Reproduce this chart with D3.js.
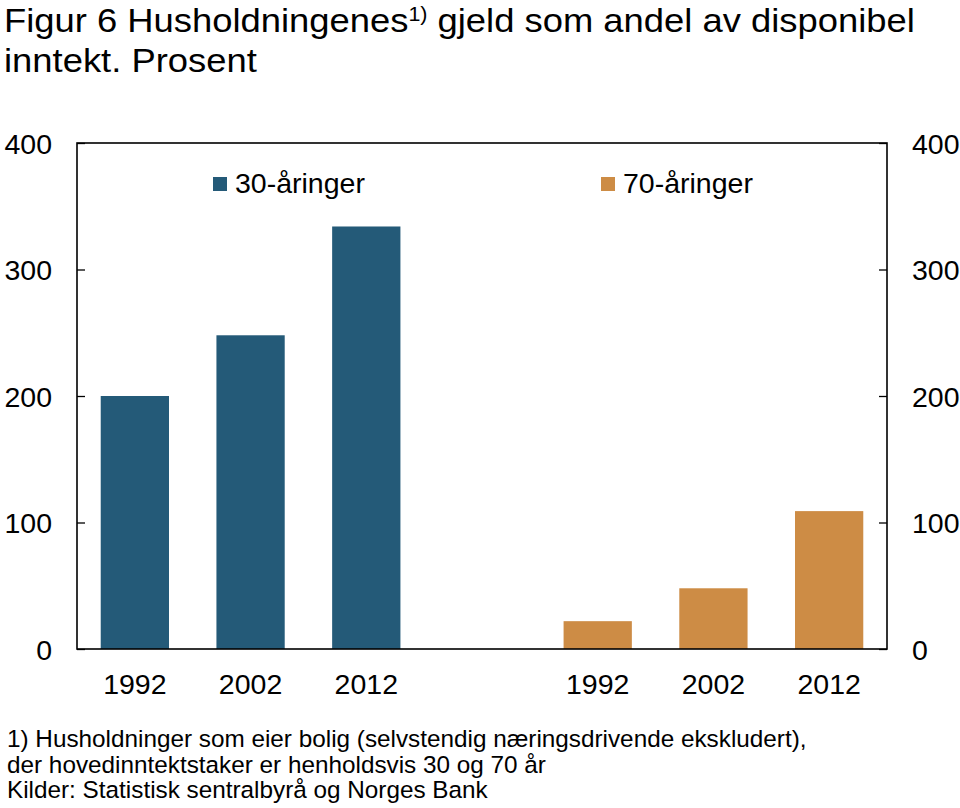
<!DOCTYPE html>
<html>
<head>
<meta charset="utf-8">
<script src="https://cdn.jsdelivr.net/npm/d3@7"></script>
<style>
  body { margin: 0; background: #fff; }
  text { font-family: "Liberation Sans", Arial, sans-serif; fill: #000; }
</style>
</head>
<body>
<div id="chart"></div>
<script>
// data
var slots = ["a1992", "a2002", "a2012", "gap", "b1992", "b2002", "b2012"];
var slotLabels = ["1992", "2002", "2012", "", "1992", "2002", "2012"];
var young = [200, 248, 334];        // 30-åringer
var old = [22, 48, 109];            // 70-åringer
var yTicks = [0, 100, 200, 300, 400];
var seriesNames = ["30-åringer", "70-åringer"];
var colors = ["#245a78", "#cd8c45"];
var footnotes = [
  "1) Husholdninger som eier bolig (selvstendig næringsdrivende ekskludert),",
  "der hovedinntektstaker er henholdsvis 30 og 70 år",
  "Kilder: Statistisk sentralbyrå og Norges Bank"
];

var width = 960, height = 808;
var margin = {top: 143, right: 73, bottom: 159, left: 77};
var w = width - margin.left - margin.right,
    h = height - margin.top - margin.bottom;

var svg = d3.select("#chart").append("svg")
    .attr("width", width)
    .attr("height", height);

// title, condensed like the original
var title = svg.append("g");
var t1 = title.append("text").attr("x", 0).attr("y", 32).style("font-size", "34px");
t1.append("tspan").text("Figur 6 Husholdningenes");
t1.append("tspan").attr("dy", -11).style("font-size", "20px").text("1)");
t1.append("tspan").attr("dy", 11).text(" gjeld som andel av disponibel");
title.append("text").attr("x", 0).attr("y", 72).style("font-size", "34px").text("inntekt. Prosent");
var bw = t1.node().getComputedTextLength();
title.attr("transform", "translate(4,0) scale(" + (911 / bw) + ",1)");

var g = svg.append("g").attr("transform", "translate(" + margin.left + "," + margin.top + ")");

var x = d3.scaleBand().domain(slots).range([0, w]).paddingInner(0.41).paddingOuter(0.205);
var y = d3.scaleLinear().domain([0, 400]).range([h, 0]);

var bars = [];
young.forEach(function(v, i) { bars.push({slot: slots[i], value: v, s: 0}); });
old.forEach(function(v, i) { bars.push({slot: slots[i + 4], value: v, s: 1}); });

g.selectAll("rect.bar")
  .data(bars)
  .enter().append("rect")
    .attr("class", "bar")
    .attr("x", function(d) { return x(d.slot); })
    .attr("width", x.bandwidth())
    .attr("y", function(d) { return y(d.value); })
    .attr("height", function(d) { return h - y(d.value); })
    .attr("fill", function(d) { return colors[d.s]; });

// axes
var left = g.append("g")
    .call(d3.axisLeft(y).tickValues(yTicks).tickSize(-8).tickPadding(25));
var right = g.append("g")
    .attr("transform", "translate(" + w + ",0)")
    .call(d3.axisRight(y).tickValues(yTicks).tickSize(-8).tickPadding(25));
[left, right].forEach(function(a) {
  a.select(".domain").remove();
  a.selectAll("text").style("font-size", "28.5px").attr("font-family", null).attr("dy", "0.36em");
  a.selectAll("line").attr("stroke", "#000").attr("stroke-width", 1.3);
});

g.append("rect")
  .attr("width", w).attr("height", h)
  .attr("fill", "none").attr("stroke", "#000").attr("stroke-width", 1.6);

g.append("g").selectAll("text")
  .data(slots.filter(function(s, i) { return slotLabels[i] !== ""; }))
  .enter().append("text")
    .attr("x", function(d) { return x(d) + x.bandwidth() / 2; })
    .attr("y", h + 45)
    .attr("text-anchor", "middle")
    .style("font-size", "28.5px")
    .text(function(d) { return slotLabels[slots.indexOf(d)]; });

// legend
var legX = [136, 524];
var leg = g.selectAll("g.leg")
  .data(seriesNames)
  .enter().append("g")
    .attr("class", "leg")
    .attr("transform", function(d, i) { return "translate(" + legX[i] + ",34)"; });
leg.append("rect").attr("width", 14).attr("height", 14).attr("fill", function(d, i) { return colors[i]; });
leg.append("text").attr("x", 22).attr("y", 16).style("font-size", "28.5px").text(function(d) { return d; });

// footnotes
svg.append("g").selectAll("text")
  .data(footnotes)
  .enter().append("text")
    .attr("x", 7)
    .attr("y", function(d, i) { return 747 + i * 25.5; })
    .style("font-size", "24.3px")
    .text(function(d) { return d; });
</script>
</body>
</html>
